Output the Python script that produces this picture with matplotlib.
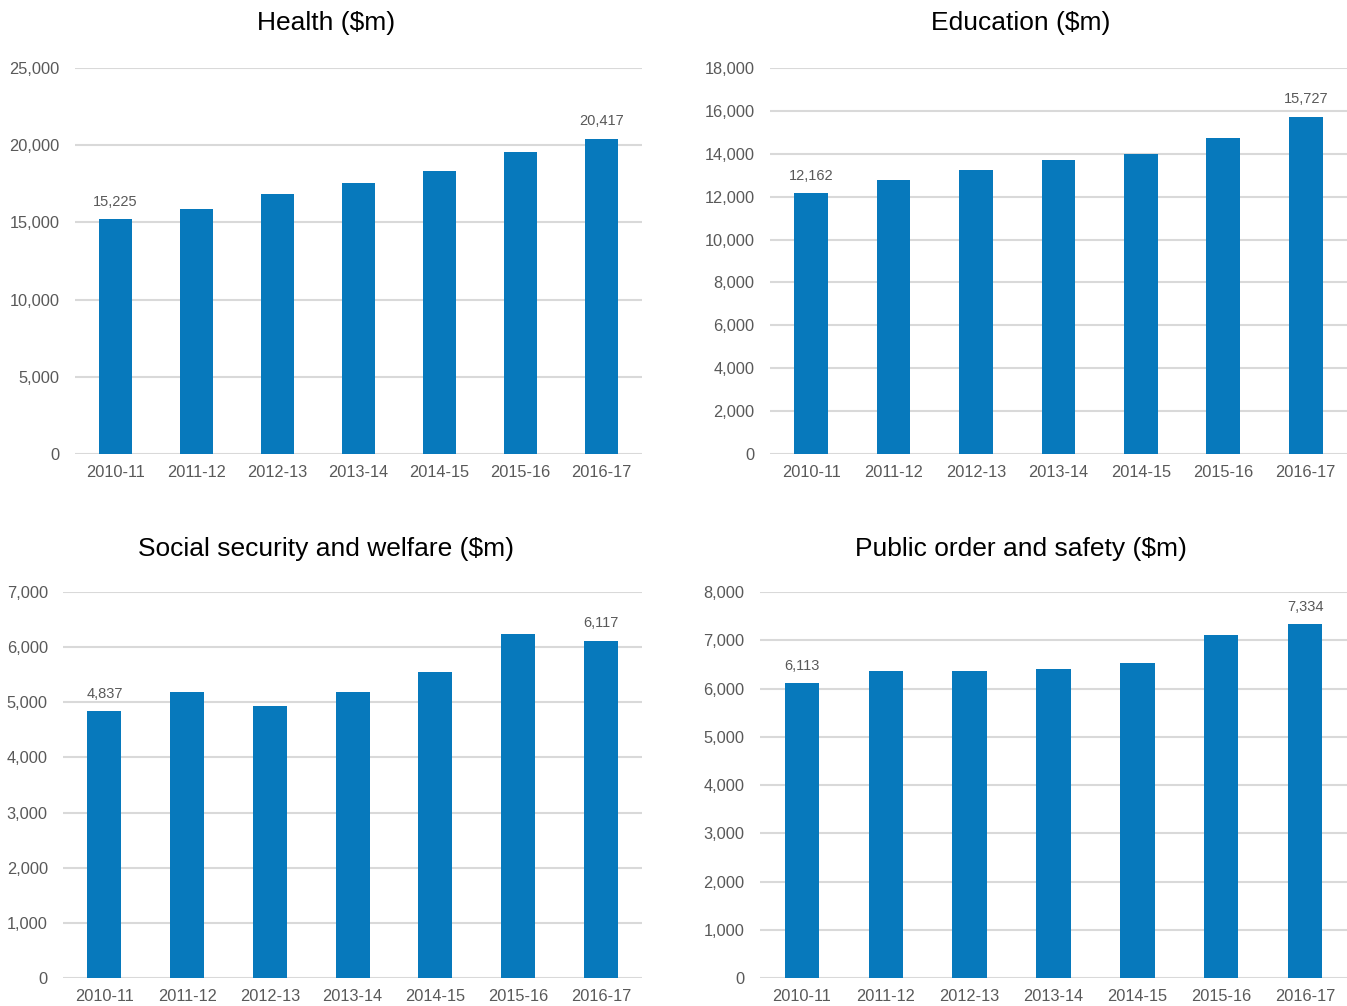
import matplotlib
matplotlib.use("Agg")
import matplotlib.pyplot as plt
from matplotlib.ticker import FuncFormatter

years = ["2010-11", "2011-12", "2012-13", "2013-14", "2014-15", "2015-16", "2016-17"]

health = [15225, 15900, 16810, 17580, 18360, 19530, 20417]
education = [12162, 12780, 13250, 13710, 13990, 14740, 15727]
welfare = [4837, 5180, 4930, 5180, 5550, 6240, 6117]
public_order = [6113, 6370, 6370, 6410, 6530, 7110, 7334]

titles = ["Health ($m)", "Education ($m)", "Social security and welfare ($m)", "Public order and safety ($m)"]
series = [health, education, welfare, public_order]
ymax = [25000, 18000, 7000, 8000]
ystep = [5000, 2000, 1000, 1000]

plt.rcParams['font.family'] = ['Liberation Sans', 'DejaVu Sans']

bar_color = "#0779BC"
text_color = "#595959"
grid_color = "#D9D9D9"

fig = plt.figure(figsize=(13.47, 10.06), dpi=100)

# axes rectangles in figure fractions
rects = [
    [0.0557, 0.5487, 0.421, 0.3837],
    [0.5716, 0.5487, 0.4284, 0.3837],
    [0.0468, 0.0278, 0.430, 0.3837],
    [0.5642, 0.0278, 0.4358, 0.3837],
]
title_pos = [(326 / 1347, 1 - 23 / 1006), (1021 / 1347, 1 - 23 / 1006),
             (326 / 1347, 1 - 549 / 1006), (1021 / 1347, 1 - 549 / 1006)]

for i in range(4):
    ax = fig.add_axes(rects[i])
    data = series[i]
    x = range(len(years))
    ax.bar(x, data, width=0.41, color=bar_color, zorder=3)
    ax.set_xlim(-0.5, len(years) - 0.5)
    ax.set_ylim(0, ymax[i])
    ax.set_yticks(range(0, ymax[i] + 1, ystep[i]))
    ax.yaxis.set_major_formatter(FuncFormatter(lambda v, p: "{:,.0f}".format(v)))
    ax.set_xticks(list(x))
    ax.set_xticklabels(years)
    ax.grid(axis="y", color=grid_color, linewidth=1.5, zorder=0)
    for s in ax.spines.values():
        s.set_visible(False)
    ax.tick_params(axis="y", length=0, pad=11, labelsize=11.8, labelcolor=text_color)
    ax.tick_params(axis="x", length=0, pad=8, labelsize=11.8, labelcolor=text_color)
    for j in [0, len(data) - 1]:
        ax.annotate("{:,}".format(data[j]), (j, data[j]), xytext=(0, 7.5),
                    textcoords="offset points", ha="center", va="bottom",
                    fontsize=10.5, color=text_color)
    fig.text(title_pos[i][0], title_pos[i][1], titles[i], ha="center", va="center",
             fontsize=19, color="black")

plt.savefig("out.png", dpi=100)
